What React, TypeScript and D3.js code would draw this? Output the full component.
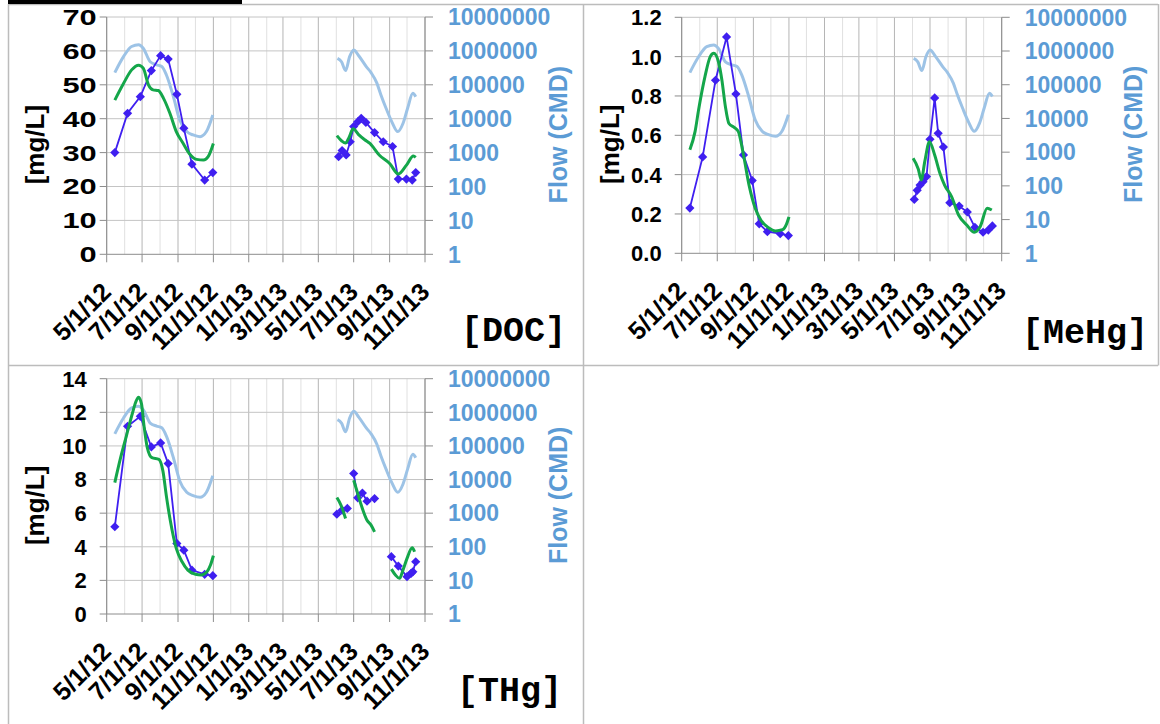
import React, { useEffect, useRef } from "react";
import * as d3 from "d3";

// x axis tick labels (Excel date axis, 2 month major unit)
const xTickLabels = ["5/1/12", "7/1/12", "9/1/12", "11/1/12", "1/1/13", "3/1/13", "5/1/13", "7/1/13", "9/1/13", "11/1/13"];
const flowTicks = [1, 10, 100, 1000, 10000, 100000, 1000000, 10000000];

// flow (CMD), same series in every panel
const flowDates = ["5/15/12", "5/30/12", "6/13/12", "6/25/12", "7/3/12", "7/15/12", "7/26/12", "8/4/12", "8/12/12", "8/24/12", "9/4/12", "9/16/12", "9/27/12", "10/9/12", "10/20/12", "10/31/12", null,
  "6/3/13", "6/10/13", "6/17/13", "6/24/13", "7/1/13", "7/10/13", "7/23/13", "7/31/13", "8/10/13", "8/17/13", "8/26/13", "9/5/13", "9/15/13", "9/24/13", "10/2/13", "10/11/13", "10/16/13"];
const flowValues = [229000, 676000, 1350000, 1510000, 1200000, 479000, 389000, 347000, 195000, 44700, 9100, 4170, 3310, 2950, 4170, 12900, null,
  603000, 479000, 263000, 676000, 1070000, 708000, 339000, 229000, 112000, 50100, 20000, 7940, 4170, 7240, 20400, 56200, 44700];

// sampling dates 2012 (shared)
const sampleDates2012 = ["5/15/12", "6/6/12", "6/28/12", "7/17/12", "8/2/12", "8/15/12", "8/30/12", "9/11/12", "9/25/12", "10/17/12", "10/31/12"];

// DOC
const docTicks = [0, 10, 20, 30, 40, 50, 60, 70];
const docDates = [...sampleDates2012, null, "6/5/13", "6/11/13", "6/18/13", "6/25/13", "7/1/13", "7/8/13", "7/14/13", "7/22/13", "8/6/13", "8/21/13", "9/6/13", "9/16/13", "9/30/13", "10/10/13", "10/16/13"];
const docValues = [30.0, 41.6, 46.5, 54.2, 58.6, 57.6, 47.2, 37.2, 26.6, 21.9, 24.1, null, 28.8, 30.6, 29.3, 33.2, 37.7, 39.1, 40.1, 38.9, 35.9, 33.2, 31.8, 22.2, 22.2, 21.9, 24.1];
const docModelDates = ["5/15/12", "5/30/12", "6/13/12", "6/25/12", "7/3/12", "7/12/12", "7/20/12", "7/29/12", "8/7/12", "8/18/12", "8/29/12", "9/10/12", "9/21/12", "10/3/12", "10/15/12", "10/23/12", "11/1/12", null,
  "6/2/13", "6/10/13", "6/17/13", "6/23/13", "6/30/13", "7/9/13", "7/20/13", "7/29/13", "8/14/13", "9/1/13", "9/16/13", "9/30/13", "10/12/13", "10/16/13"];
const docModel = [45.5, 50.4, 54.4, 55.8, 54.9, 50.0, 48.5, 48.3, 46.0, 41.6, 36.2, 32.7, 29.6, 28.0, 27.8, 28.8, 32.7, null,
  35.0, 33.5, 32.8, 34.5, 37.0, 35.4, 33.8, 32.7, 29.3, 26.8, 23.7, 26.3, 29.0, 28.6];

// MeHg
const mehgTicks = [0, 0.2, 0.4, 0.6, 0.8, 1.0, 1.2];
const mehgDates = [...sampleDates2012, null, "6/4/13", "6/9/13", "6/14/13", "6/19/13", "6/25/13", "7/1/13", "7/9/13", "7/15/13", "7/24/13", "8/4/13", "8/20/13", "9/3/13", "9/16/13", "9/30/13", "10/9/13", "10/16/13"];
const mehgValues = [0.23, 0.49, 0.88, 1.10, 0.81, 0.50, 0.37, 0.15, 0.11, 0.10, 0.09, null, 0.274, 0.32, 0.347, 0.364, 0.39, 0.58, 0.79, 0.61, 0.54, 0.257, 0.24, 0.21, 0.132, 0.107, 0.118, 0.139];
const mehgModelDates = ["5/15/12", "5/24/12", "5/30/12", "6/10/12", "6/19/12", "6/25/12", "7/3/12", "7/9/12", "7/15/12", "7/21/12", "7/30/12", "8/6/12", "8/15/12", "8/25/12", "9/4/12", "9/14/12", "9/27/12", "10/9/12", "10/21/12", "10/28/12", "11/1/12", null,
  "6/2/13", "6/11/13", "6/16/13", "6/22/13", "6/30/13", "7/9/13", "7/18/13", "7/26/13", "8/7/13", "8/19/13", "9/2/13", "9/15/13", "9/25/13", "10/7/13", "10/15/13"];
const mehgModel = [0.527, 0.62, 0.73, 0.90, 1.0, 1.017, 0.974, 0.88, 0.745, 0.66, 0.64, 0.62, 0.50, 0.34, 0.23, 0.168, 0.13, 0.114, 0.12, 0.15, 0.185, null,
  0.483, 0.427, 0.373, 0.466, 0.567, 0.50, 0.407, 0.347, 0.288, 0.195, 0.144, 0.107, 0.135, 0.229, 0.22];

// THg
const thgTicks = [0, 2, 4, 6, 8, 10, 12, 14];
const thgDates = [...sampleDates2012, null, "6/2/13", "6/11/13", "6/20/13", null, "7/1/13", "7/8/13", "7/16/13", "7/24/13", "8/6/13", null, "9/4/13", "9/16/13", "10/1/13", "10/8/13", "10/11/13", "10/16/13"];
const thgValues = [5.19, 11.17, 11.76, 9.94, 10.18, 8.95, 4.2, 3.8, 2.61, 2.36, 2.28, null, 5.94, 6.18, 6.28, null, 8.36, 6.91, 7.20, 6.71, 6.87, null, 3.41, 2.85, 2.22, 2.42, 2.51, 3.11];
const thgModelDates = ["5/15/12", "5/25/12", "6/4/12", "6/14/12", "6/20/12", "6/25/12", "6/30/12", "7/4/12", "7/10/12", "7/18/12", "7/30/12", "8/6/12", "8/12/12", "8/19/12", "8/29/12", "9/8/12", "9/18/12", "10/1/12", "10/11/12", "10/21/12", "10/27/12", "11/1/12", null,
  "6/2/13", "6/9/13", "6/17/13", null, "7/1/13", "7/8/13", "7/14/13", "7/24/13", "7/31/13", "8/6/13", null, "9/4/13", "9/11/13", "9/18/13", "9/24/13", "10/1/13", "10/10/13", "10/14/13"];
const thgModel = [7.82, 9.3, 10.6, 11.9, 12.6, 12.9, 12.5, 11.3, 9.9, 9.3, 9.2, 8.5, 7.0, 5.5, 3.9, 3.11, 2.61, 2.36, 2.32, 2.51, 2.91, 3.47, null,
  6.93, 6.48, 5.68, null, 7.96, 7.17, 6.48, 5.58, 5.29, 4.89, null, 2.67, 2.32, 2.12, 2.61, 3.31, 3.94, 3.70];

const FONT = "'Liberation Sans', Arial, Helvetica, sans-serif";
const MONO = "'Courier New', 'Liberation Mono', monospace";
const SAMPLE = "#3f1ff0";
const MODEL = "#14a64a";
const FLOW = "#9dc3e6";
const FLOWTXT = "#5b9bd5";

const parse = d3.timeParse("%m/%d/%y");

// the DOC chart's left labels are drawn wider in the original
const panels = [
  { cx: 8, cy: 4, x0: 106.7, x1: 425, y0: 17, y1: 254.3, ticks: docTicks, fmt: (d) => String(d), gap: 10, stretch: 1.4,
    title: "[DOC]", tx: 461, ty: 341, dates: docDates, values: docValues, mDates: docModelDates, mValues: docModel },
  { cx: 583, cy: 4, x0: 681.7, x1: 1001.7, y0: 17.3, y1: 253.3, ticks: mehgTicks, fmt: d3.format(".1f"), gap: 20, stretch: 1,
    title: "[MeHg]", tx: 1022, ty: 343, dates: mehgDates, values: mehgValues, mDates: mehgModelDates, mValues: mehgModel },
  { cx: 8, cy: 365, x0: 106.7, x1: 425, y0: 378.7, y1: 614, ticks: thgTicks, fmt: (d) => String(d), gap: 20, stretch: 1,
    title: "[THg]", tx: 457, ty: 701, dates: thgDates, values: thgValues, mDates: thgModelDates, mValues: thgModel },
];

function toPoints(dates, values) {
  return dates.map((d, i) => ({ date: d ? parse(d) : null, v: values[i] }));
}

function drawPanel(g, p) {
  const tickDates = xTickLabels.map((t) => parse(t));
  const x = d3.scaleTime().domain([tickDates[0], tickDates[tickDates.length - 1]]).range([p.x0, p.x1]);
  const y = d3.scaleLinear().domain([0, p.ticks[p.ticks.length - 1]]).range([p.y1, p.y0]);
  const yFlow = d3.scaleLog().domain([1, 1e7]).range([p.y1, p.y0]);

  // vertical gridlines: monthly minor, 2-month major
  const months = d3.timeMonth.range(x.domain()[0], d3.timeDay.offset(x.domain()[1], 1));
  g.selectAll(".vminor").data(months).enter().append("line")
    .attr("x1", (d) => x(d)).attr("x2", (d) => x(d)).attr("y1", p.y0).attr("y2", p.y1)
    .attr("stroke", (d) => (d.getMonth() % 2 === 0 ? "#b5b5b5" : "#e0e0e0")).attr("stroke-width", 1);

  // horizontal gridlines
  g.selectAll(".hgrid").data(p.ticks.slice(1)).enter().append("line")
    .attr("x1", p.x0).attr("x2", p.x1).attr("y1", (d) => y(d)).attr("y2", (d) => y(d))
    .attr("stroke", "#c4c4c4").attr("stroke-width", 1);

  // axis lines
  const axisColor = "#8c8c8c";
  g.append("line").attr("x1", p.x0).attr("x2", p.x0).attr("y1", p.y0).attr("y2", p.y1).attr("stroke", axisColor);
  g.append("line").attr("x1", p.x1).attr("x2", p.x1).attr("y1", p.y0).attr("y2", p.y1).attr("stroke", axisColor);
  g.append("line").attr("x1", p.x0).attr("x2", p.x1).attr("y1", p.y1).attr("y2", p.y1).attr("stroke", axisColor);

  // ticks
  g.selectAll(".lt").data(p.ticks).enter().append("line")
    .attr("x1", p.x0 - 7).attr("x2", p.x0).attr("y1", (d) => y(d)).attr("y2", (d) => y(d)).attr("stroke", axisColor);
  g.selectAll(".rt").data(flowTicks).enter().append("line")
    .attr("x1", p.x1).attr("x2", p.x1 + 8).attr("y1", (d) => yFlow(d)).attr("y2", (d) => yFlow(d)).attr("stroke", axisColor);
  g.selectAll(".bt").data(tickDates).enter().append("line")
    .attr("x1", (d) => x(d)).attr("x2", (d) => x(d)).attr("y1", p.y1).attr("y2", p.y1 + 8).attr("stroke", axisColor);

  // tick labels
  g.selectAll(".ll").data(p.ticks).enter().append("text")
    .attr("transform", (d) => `translate(${p.x0 - p.gap},${y(d)}) scale(${p.stretch},1)`).attr("dy", "0.36em")
    .attr("text-anchor", "end").attr("font-family", FONT).attr("font-weight", "bold").attr("font-size", 22)
    .attr("fill", "#000").text((d) => p.fmt(d));
  g.selectAll(".rl").data(flowTicks).enter().append("text")
    .attr("x", p.x1 + 23).attr("y", (d) => yFlow(d)).attr("dy", "0.36em")
    .attr("font-family", FONT).attr("font-weight", "bold").attr("font-size", 23)
    .attr("fill", FLOWTXT).text((d) => String(d));
  g.selectAll(".xl").data(xTickLabels).enter().append("text")
    .attr("transform", (d) => `translate(${x(parse(d)) + 6},${p.y1 + 39}) rotate(-45)`)
    .attr("text-anchor", "end").attr("font-family", FONT).attr("font-weight", "bold").attr("font-size", 25)
    .attr("fill", "#000").text((d) => d);

  // axis titles
  const midY = (p.y0 + p.y1) / 2;
  g.append("text").attr("transform", `translate(${p.cx + 36},${midY + 9}) rotate(-90)`)
    .attr("text-anchor", "middle").attr("font-family", FONT).attr("font-weight", "bold").attr("font-size", 26)
    .attr("fill", "#000").text("[mg/L]");
  g.append("text").attr("transform", `translate(${p.cx + 559},${midY - 1}) rotate(-90)`)
    .attr("text-anchor", "middle").attr("font-family", FONT).attr("font-weight", "bold").attr("font-size", 25)
    .attr("fill", FLOWTXT).text("Flow (CMD)");
  g.append("text").attr("x", p.tx).attr("y", p.ty)
    .attr("font-family", MONO).attr("font-weight", "bold").attr("font-size", 35)
    .attr("fill", "#000").text(p.title);

  // series
  const flowPts = toPoints(flowDates, flowValues);
  const flowLine = d3.line().defined((d) => d.v != null).x((d) => x(d.date)).y((d) => yFlow(d.v)).curve(d3.curveMonotoneX);
  g.append("path").datum(flowPts).attr("d", flowLine).attr("fill", "none").attr("stroke", FLOW).attr("stroke-width", 3);

  const modelPts = toPoints(p.mDates, p.mValues);
  const modelLine = d3.line().defined((d) => d.v != null).x((d) => x(d.date)).y((d) => y(d.v)).curve(d3.curveMonotoneX);

  const samplePts = toPoints(p.dates, p.values);
  const sampleLine = d3.line().defined((d) => d.v != null).x((d) => x(d.date)).y((d) => y(d.v));
  g.append("path").datum(samplePts).attr("d", sampleLine).attr("fill", "none").attr("stroke", SAMPLE).attr("stroke-width", 1.8);
  const r = 4.6;
  g.selectAll(".mk").data(samplePts.filter((d) => d.v != null)).enter().append("path")
    .attr("transform", (d) => `translate(${x(d.date)},${y(d.v)})`)
    .attr("d", `M0,${-r}L${r},0L0,${r}L${-r},0Z`).attr("fill", SAMPLE);

  g.append("path").datum(modelPts).attr("d", modelLine).attr("fill", "none").attr("stroke", MODEL).attr("stroke-width", 3);
}

export default function App() {
  const ref = useRef(null);

  useEffect(() => {
    const svg = d3.select(ref.current);
    svg.selectAll("*").remove();

    // table cell borders
    const border = "#bcbcbc";
    const cells = [
      [8, 4.5, 1158, 4.5], [8, 365.5, 1158, 365.5],
      [8.5, 4, 8.5, 724], [583.5, 4, 583.5, 724], [1158.5, 4, 1158.5, 365.5],
    ];
    svg.selectAll(".cell").data(cells).enter().append("line")
      .attr("x1", (d) => d[0]).attr("y1", (d) => d[1]).attr("x2", (d) => d[2]).attr("y2", (d) => d[3])
      .attr("stroke", border).attr("stroke-width", 1.5);
    svg.append("rect").attr("x", 8).attr("y", 0).attr("width", 234).attr("height", 4).attr("fill", "#000");

    panels.forEach((p) => drawPanel(svg.append("g"), p));
  }, []);

  return (
    <svg ref={ref} width={1160} height={724}
      style={{ position: "absolute", left: 0, top: 0, background: "#fff" }} />
  );
}
